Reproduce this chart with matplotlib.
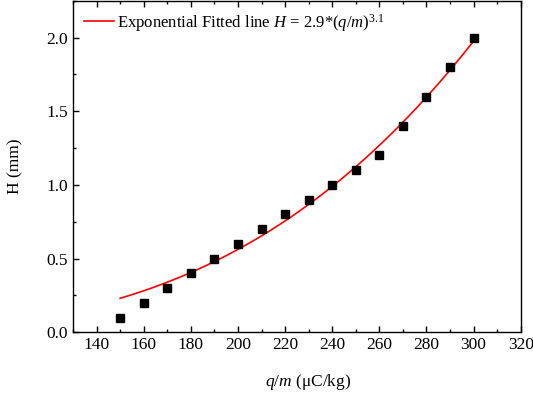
import numpy as np
from matplotlib import pyplot as plt
from matplotlib.ticker import MultipleLocator

plt.rcParams['font.family'] = ['Liberation Serif', 'DejaVu Serif']
plt.rcParams['mathtext.fontset'] = 'custom'
plt.rcParams['mathtext.rm'] = 'Liberation Serif'
plt.rcParams['mathtext.it'] = 'Liberation Serif:italic'

# measured points
qm = [150, 160, 170, 180, 190, 200, 210, 220, 230, 240, 250, 260, 270, 280, 290, 300]
H = [0.1, 0.2, 0.3, 0.4, 0.5, 0.6, 0.7, 0.8, 0.9, 1.0, 1.1, 1.2, 1.4, 1.6, 1.8, 2.0]
fit_exp = 3.1

x = np.array(qm, dtype=float)
y = np.array(H)
# least squares for the prefactor, exponent fixed at 3.1
a = np.sum(y * x**fit_exp) / np.sum(x**(2 * fit_exp))
xf = np.linspace(150, 300, 200)
yf = a * xf**fit_exp

fig = plt.figure(figsize=(5.33, 3.93), dpi=100)
ax = fig.add_axes([0.137, 0.1545, 0.84, 0.8435])

ax.plot(xf, yf, color='red', lw=1.2,
        label=r'Exponential Fitted line $H$ = 2.9*($q$/$m$)$^{3.1}$')
ax.plot(x, y, 's', color='black', ms=5.5, label='_nolegend_')

ax.set_xlim(130, 320)
ax.set_ylim(0, 2.25)
ax.xaxis.set_major_locator(MultipleLocator(20))
ax.xaxis.set_minor_locator(MultipleLocator(10))
ax.yaxis.set_major_locator(MultipleLocator(0.5))
ax.yaxis.set_minor_locator(MultipleLocator(0.25))
ax.yaxis.set_major_formatter(plt.FormatStrFormatter('%.1f'))
ax.tick_params(which='both', direction='in', top=True, right=False, labelsize=12.5)
ax.tick_params(which='major', length=4.5, width=1)
ax.tick_params(which='minor', length=2.5, width=1)
for s in ax.spines.values():
    s.set_linewidth(1)

ax.set_xlabel(r'$q$/$m$ (μC/kg)', fontsize=12.5)
ax.xaxis.set_label_coords(0.525, -0.12)
ax.set_ylabel('H (mm)', fontsize=12.5, labelpad=17)

ax.legend(loc='upper left', frameon=False, fontsize=12, handlelength=1.8,
          handletextpad=0.2, borderaxespad=0.25, bbox_to_anchor=(0.0, 1.0))

fig.savefig('out.png', dpi=100)
